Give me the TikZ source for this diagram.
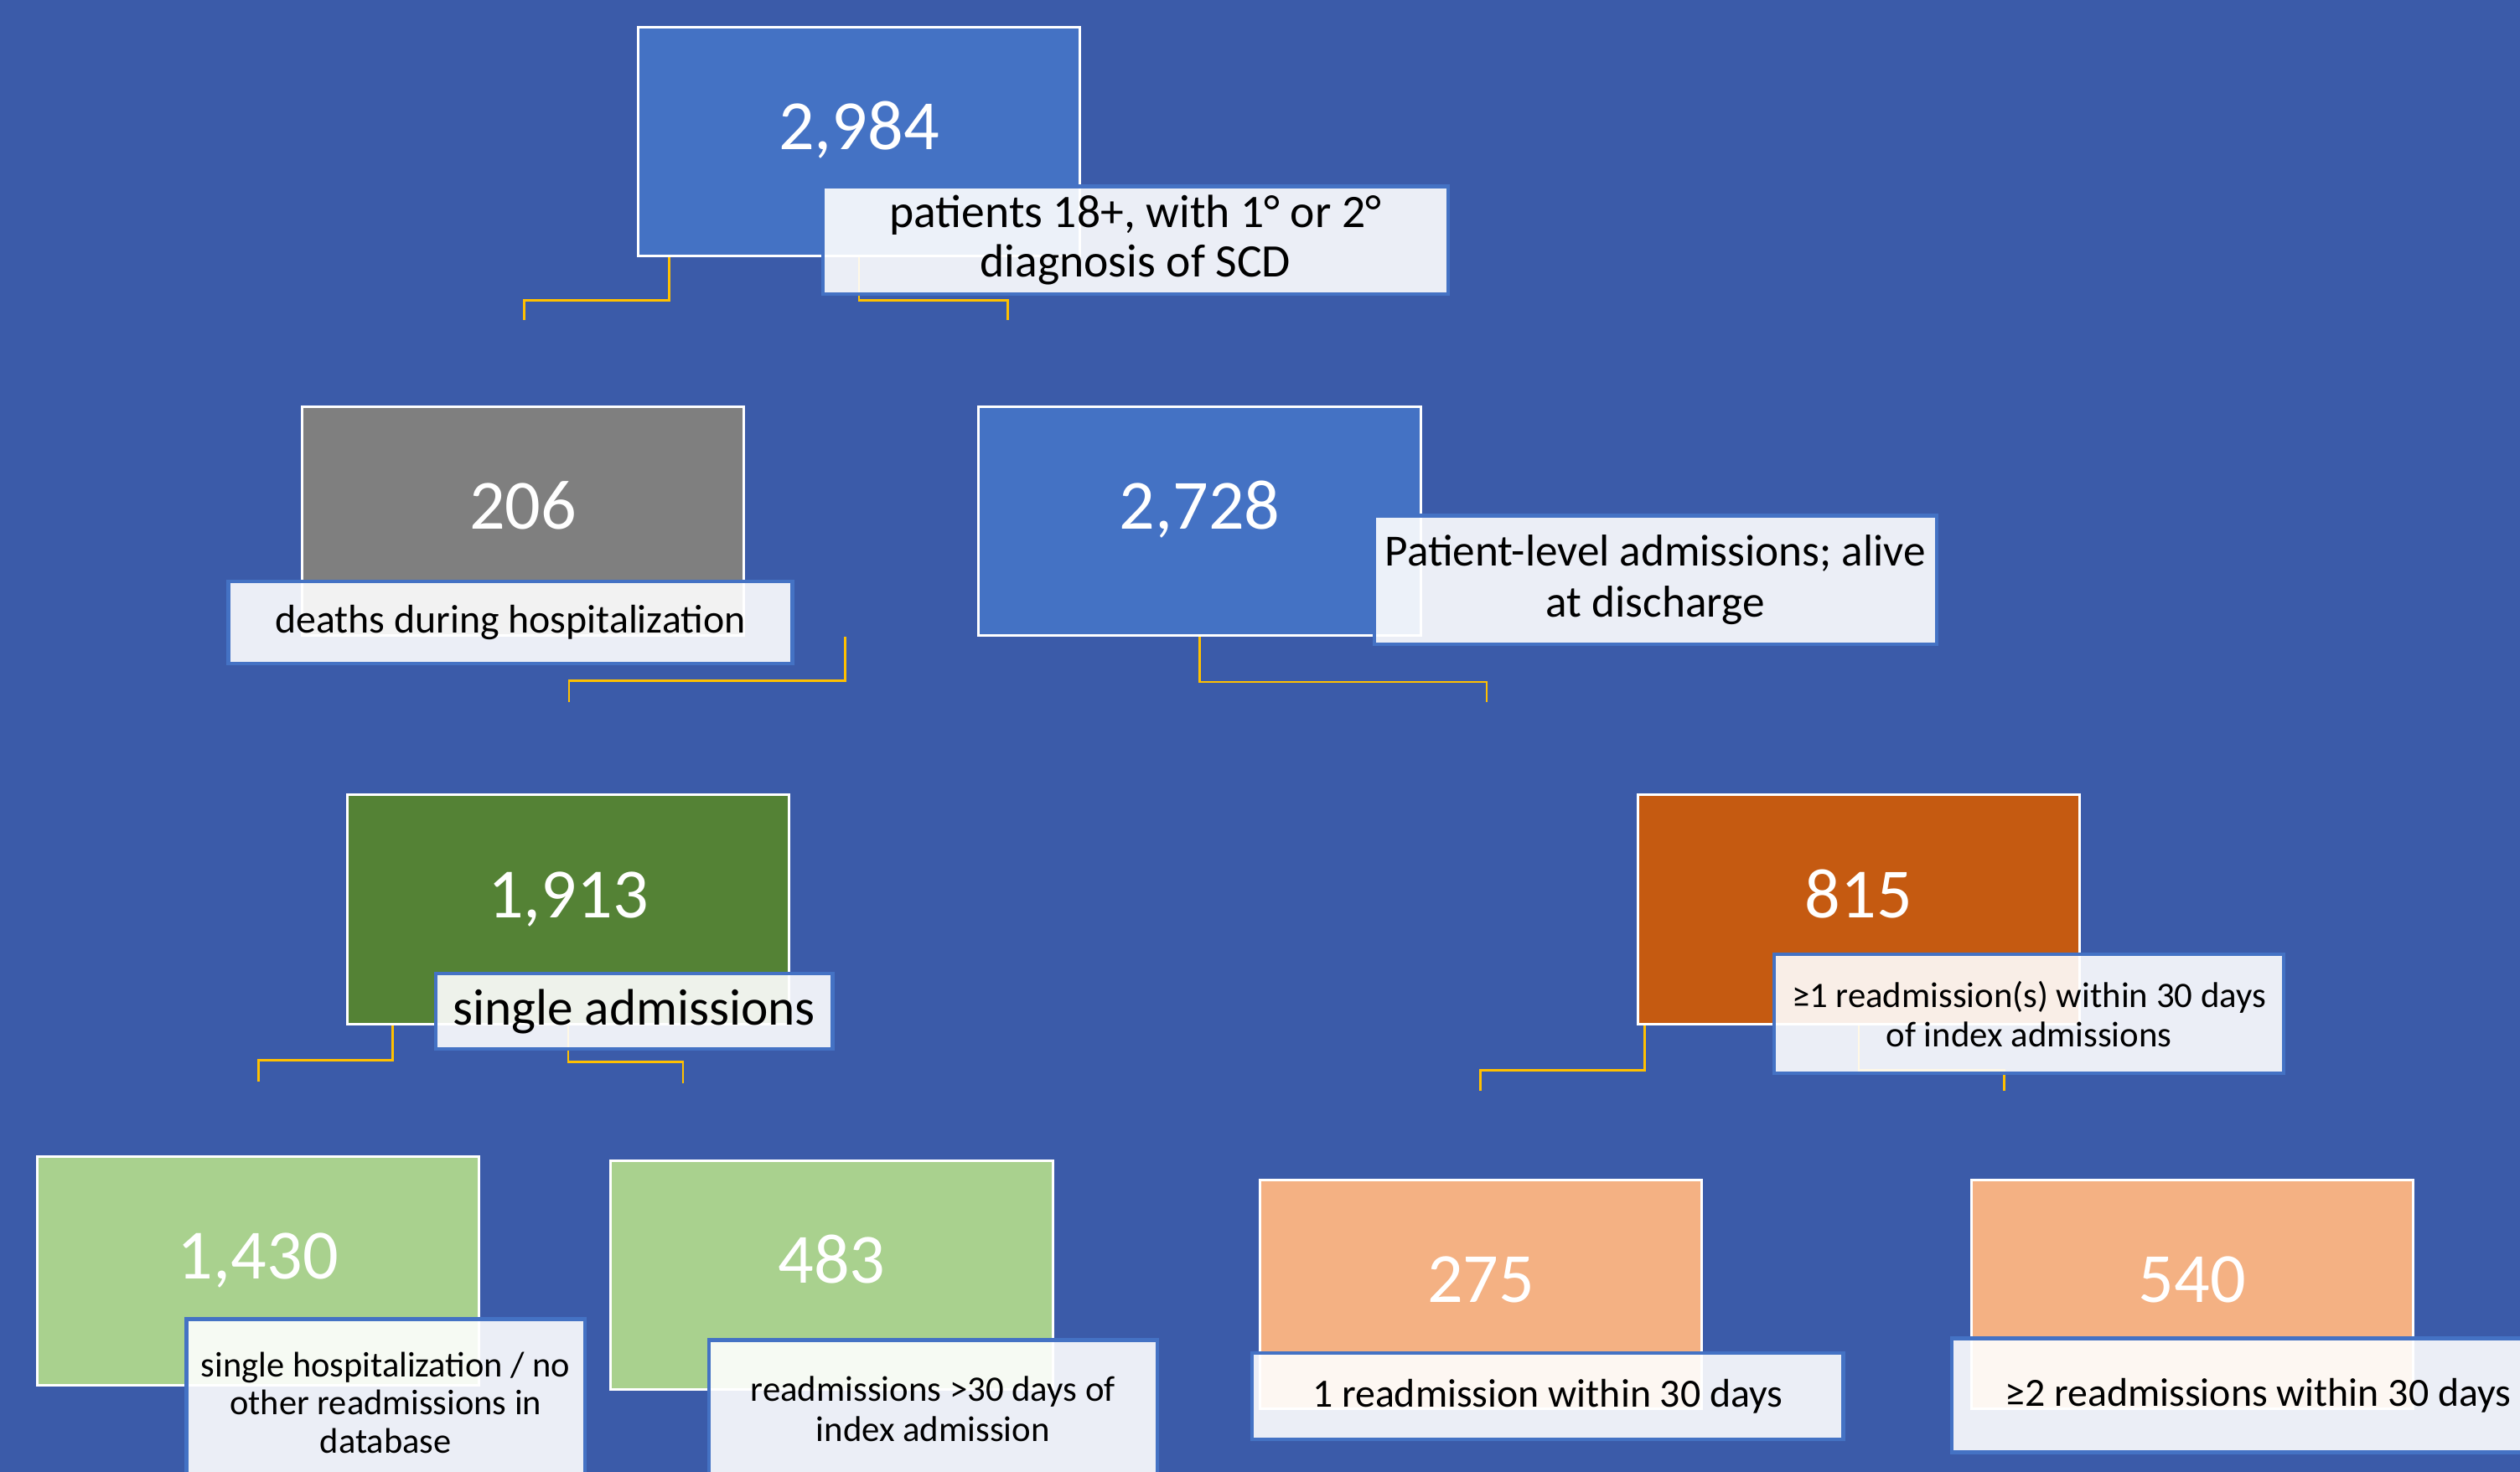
\documentclass[tikz,border=0pt]{standalone}
\usepackage{fontspec}
\setmainfont{Carlito}
\definecolor{bgblue}{HTML}{3B5BA9}
\definecolor{boxblue}{HTML}{4472C4}
\definecolor{boxgrey}{HTML}{7F7F7F}
\definecolor{boxgreen}{HTML}{548235}
\definecolor{boxlime}{HTML}{A9D18E}
\definecolor{boxrust}{HTML}{C55A11}
\definecolor{boxpeach}{HTML}{F4B183}
\definecolor{linkgold}{HTML}{FFC000}

\tikzset{
  countbox/.style={draw=white, line width=0.9pt, minimum width=5.5cm, minimum height=2.85cm,
    inner sep=0pt, text=white, font=\fontsize{25}{30}\selectfont,
    text height=0.4cm, text depth=0.2cm},
  tagbox/.style={draw=boxblue, line width=1.3pt, fill=white, fill opacity=0.9, text opacity=1,
    text=black, align=center, inner sep=0pt},
  elbow/.style={draw=linkgold, line width=0.8pt},
}

\begin{document}
\begin{tikzpicture}[x=0.02cm,y=-0.02cm]
\fill[bgblue] (0,0) rectangle (1568,916);
\useasboundingbox (0,0) rectangle (1568,916);

% count boxes
\node[countbox, fill=boxblue] (total) at (534.5,88) {2,984};
\node[countbox, fill=boxgrey] (died) at (325.5,324.5) {206};
\node[countbox, fill=boxblue] (alive) at (746.5,324.5) {2,728};
\node[countbox, fill=boxgreen] (single) at (353.5,566) {1,913};
\node[countbox, fill=boxrust] (readm) at (1156.5,566) {815};
\node[countbox, fill=boxlime] (nomore) at (160.5,791) {1,430};
\node[countbox, fill=boxlime] (later) at (517.5,793.5) {483};
\node[countbox, fill=boxpeach] (once) at (921.5,805.5) {275};
\node[countbox, fill=boxpeach] (twice) at (1364,805.5) {540};

% free ends of the connectors
\coordinate (endB) at (326,199);
\coordinate (endC) at (627,199);
\coordinate (endD) at (354,437);
\coordinate (endE) at (925,437);
\coordinate (endF) at (161,673);
\coordinate (endG) at (425,674);
\coordinate (endH) at (921,679);
\coordinate (endI) at (1247,679);

\draw[elbow] ([xshift=0.4cm]total.south west) -- ++(0,27) -| (endB);
\draw[elbow] (total.south) -- ++(0,27) -| (endC);
\draw[elbow] ([xshift=1.24cm]died.south east) -- ++(0,27) -| (endD);
\draw[elbow] (alive.south) -- ++(0,28) -| (endE);
\draw[elbow] ([xshift=0.58cm]single.south west) -- ++(0,22) -| (endF);
\draw[elbow] (single.south) -- ++(0,23) -| (endG);
\draw[elbow] ([xshift=0.1cm]readm.south west) -- ++(0,28) -| (endH);
\draw[elbow] (readm.south) -- ++(0,28) -| (endI);

% text boxes
\node[tagbox, minimum width=7.78cm, minimum height=1.34cm, font=\fontsize{16.5}{17.5}\selectfont]
  (totaltag) at (706.5,149.5) {patients 18+, with 1° or 2°\\diagnosis of SCD};
\node[tagbox, minimum width=7.02cm, minimum height=1.02cm, font=\fontsize{14.2}{16}\selectfont]
  (diedtag) at (317.5,387.5) {deaths during hospitalization};
\node[tagbox, minimum width=7cm, minimum height=1.6cm, font=\fontsize{15.8}{18}\selectfont]
  (alivetag) at (1030,361) {Patient-level admissions; alive\\at discharge};
\node[tagbox, minimum width=4.94cm, minimum height=0.94cm, font=\fontsize{18.2}{20}\selectfont]
  (singletag) at (394.5,629.5) {single admissions};
\node[tagbox, minimum width=6.34cm, minimum height=1.48cm, font=\fontsize{12.7}{14}\selectfont]
  (readmtag) at (1262.5,631) {≥1 readmission(s) within 30 days\\of index admissions};
\node[tagbox, minimum width=4.96cm, minimum height=2.08cm, font=\fontsize{12.6}{13.5}\selectfont]
  (nomoretag) at (240,873) {single hospitalization / no\\other readmissions in\\database};
\node[tagbox, minimum width=5.58cm, minimum height=1.72cm, font=\fontsize{12.7}{14}\selectfont]
  (latertag) at (580.5,877) {readmissions >30 days of\\index admission};
\node[tagbox, minimum width=7.36cm, minimum height=1.08cm, font=\fontsize{14.2}{15}\selectfont]
  (oncetag) at (963,869) {1 readmission within 30 days};
\node[tagbox, minimum width=7.62cm, minimum height=1.42cm, font=\fontsize{14.2}{15}\selectfont]
  (twicetag) at (1405,868.5) {≥2 readmissions within 30 days};
\end{tikzpicture}
\end{document}
